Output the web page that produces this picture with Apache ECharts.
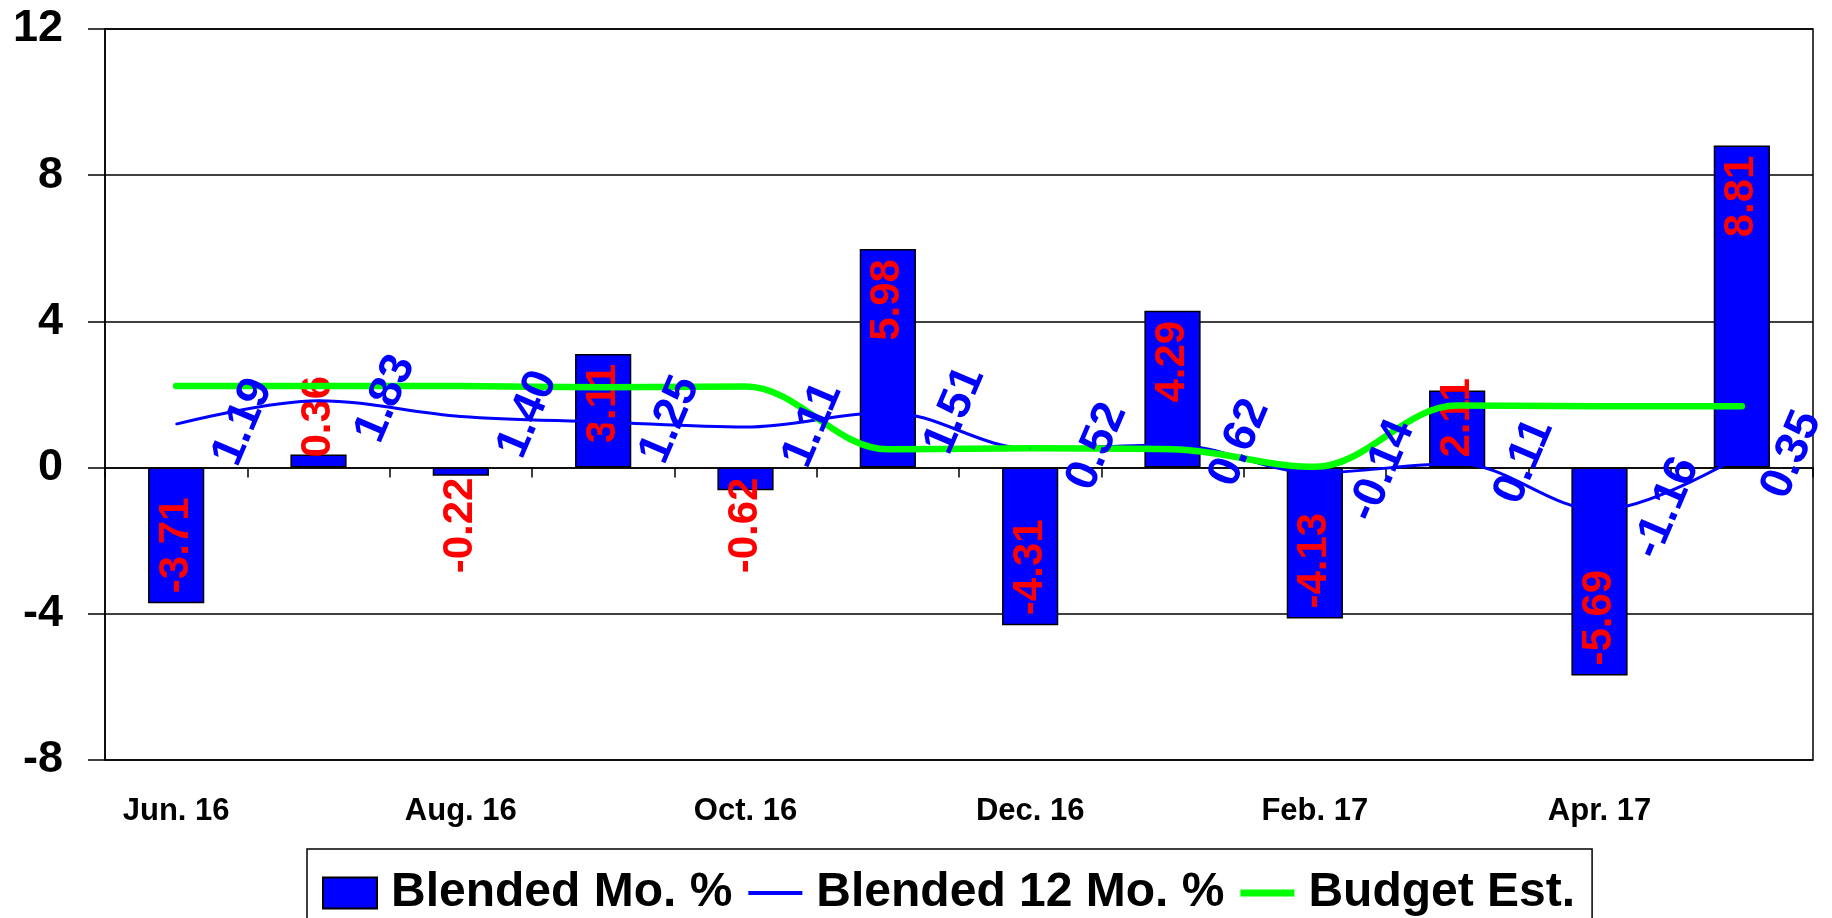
<!DOCTYPE html>
<html>
<head>
<meta charset="utf-8">
<script src="https://cdn.jsdelivr.net/npm/echarts@6/dist/echarts.min.js"></script>
<style>
  html, body { margin: 0; padding: 0; background: #ffffff; }
  #chart { width: 1832px; height: 918px; }
</style>
</head>
<body>
<div id="chart"></div>
<script>
// ---- data ----
const categories = ['Jun. 16', 'Jul. 16', 'Aug. 16', 'Sep. 16', 'Oct. 16', 'Nov. 16',
                    'Dec. 16', 'Jan. 17', 'Feb. 17', 'Mar. 17', 'Apr. 17', 'May. 17'];
const blendedMo = [-3.71, 0.36, -0.22, 3.11, -0.62, 5.98, -4.31, 4.29, -4.13, 2.11, -5.69, 8.81];
const blended12Mo = [1.19, 1.83, 1.40, 1.25, 1.11, 1.51, 0.52, 0.62, -0.14, 0.11, -1.16, 0.35];
const budgetEst = [2.23, 2.23, 2.23, 2.2, 2.22, 0.5, 0.53, 0.5, 0.02, 1.7, 1.68, 1.68];
const yTicks = { min: -8, max: 12, interval: 4 };

const FONT = '"Liberation Sans", Arial, sans-serif';

// bar labels: rotated 90deg, at inner end when the bar is long enough, else from the zero line
function barLabel(v) {
  const long = Math.abs(v) >= 3;
  let position, align;
  if (v >= 0) {
    position = long ? 'insideTop' : 'insideBottom';
    align = long ? 'right' : 'left';
  } else {
    position = long ? 'insideBottom' : 'insideTop';
    align = long ? 'left' : 'right';
  }
  return { position: position, align: align, distance: 10 };
}

const barData = blendedMo.map(v => ({ value: v, label: barLabel(v) }));

// line label: rotated, centred to the right of the point (offset is given in the rotated frame)
const lineRot = 67;
const rr = lineRot * Math.PI / 180;
function rotOffset(sx, sy) {
  return [sx * Math.cos(rr) - sy * Math.sin(rr), sx * Math.sin(rr) + sy * Math.cos(rr)];
}
const lineData = blended12Mo.map((v, i) => ({
  value: v,
  label: { offset: i === blended12Mo.length - 1 ? rotOffset(50, 0) : rotOffset(67, -2) }
}));

const chart = echarts.init(document.getElementById('chart'), null, { renderer: 'canvas' });
chart.setOption({
  backgroundColor: '#ffffff',
  animation: false,
  textStyle: { fontFamily: FONT },
  grid: {
    left: 105, right: 19, top: 29, bottom: 158,
    show: true, borderColor: '#000', borderWidth: 1.5, backgroundColor: 'transparent'
  },
  legend: {
    left: 307, top: 849,
    padding: [20, 17, 40, 15],
    itemWidth: 54, itemHeight: 31, itemGap: 16,
    borderColor: '#000', borderWidth: 1.5, backgroundColor: '#fff',
    textStyle: { fontSize: 48, fontWeight: 'bold', color: '#000', fontFamily: FONT, padding: [0, 0, 0, 9] },
    data: [
      { name: 'Blended Mo. %', icon: 'rect' },
      { name: 'Blended 12 Mo. %', icon: 'path://M0,0H54V4H0Z' },
      { name: 'Budget Est.', icon: 'path://M0,0H54V7H0Z' }
    ]
  },
  xAxis: [
    {
      type: 'category', data: categories, position: 'bottom',
      boundaryGap: true,
      axisLine: { onZero: true, lineStyle: { color: '#000', width: 1.5 } },
      axisTick: { show: true, length: 10, alignWithLabel: false, interval: 0, lineStyle: { color: '#000', width: 1.5 } },
      axisLabel: { show: false },
      splitLine: { show: false }
    },
    {
      type: 'category', data: categories, position: 'bottom',
      axisLine: { show: false, onZero: false },
      axisTick: { show: false },
      axisLabel: { show: true, interval: 1, margin: 36, fontSize: 31, fontWeight: 'bold', color: '#000', fontFamily: FONT },
      splitLine: { show: false }
    }
  ],
  yAxis: {
    type: 'value', min: yTicks.min, max: yTicks.max, interval: yTicks.interval,
    axisLine: { show: true, lineStyle: { color: '#000', width: 1.5 } },
    axisTick: { show: true, length: 17, lineStyle: { color: '#000', width: 1.5 } },
    axisLabel: { fontSize: 45, fontWeight: 'bold', color: '#000', margin: 42, fontFamily: FONT },
    splitLine: { show: true, lineStyle: { color: '#000', width: 1.5 } }
  },
  series: [
    {
      name: 'Blended Mo. %', type: 'bar', xAxisIndex: 0,
      data: barData, barWidth: '39.5%',
      itemStyle: { color: '#0000FF', borderColor: '#000', borderWidth: 1.5 },
      label: {
        show: true, rotate: 90, verticalAlign: 'middle',
        color: '#FF0000', fontSize: 42, fontWeight: 'bold', fontFamily: FONT,
        formatter: p => p.value.toFixed(2)
      }
    },
    {
      name: 'Blended 12 Mo. %', type: 'line', xAxisIndex: 0,
      data: lineData, smooth: 0.35,
      symbol: 'circle', symbolSize: 2, showSymbol: true,
      itemStyle: { color: '#0000FF' },
      lineStyle: { color: '#0000FF', width: 3 },
      label: {
        show: true, position: 'inside', rotate: lineRot,
        align: 'center', verticalAlign: 'middle',
        color: '#0000FF', fontSize: 46, fontWeight: 'bold', fontFamily: FONT,
        formatter: p => p.value.toFixed(2)
      }
    },
    {
      name: 'Budget Est.', type: 'line', xAxisIndex: 0,
      data: budgetEst, smooth: 0.35,
      symbol: 'circle', symbolSize: 2, showSymbol: true,
      itemStyle: { color: '#00FF00' },
      lineStyle: { color: '#00FF00', width: 6.5, cap: 'round', join: 'round' },
      label: { show: false }
    }
  ]
});
</script>
</body>
</html>
